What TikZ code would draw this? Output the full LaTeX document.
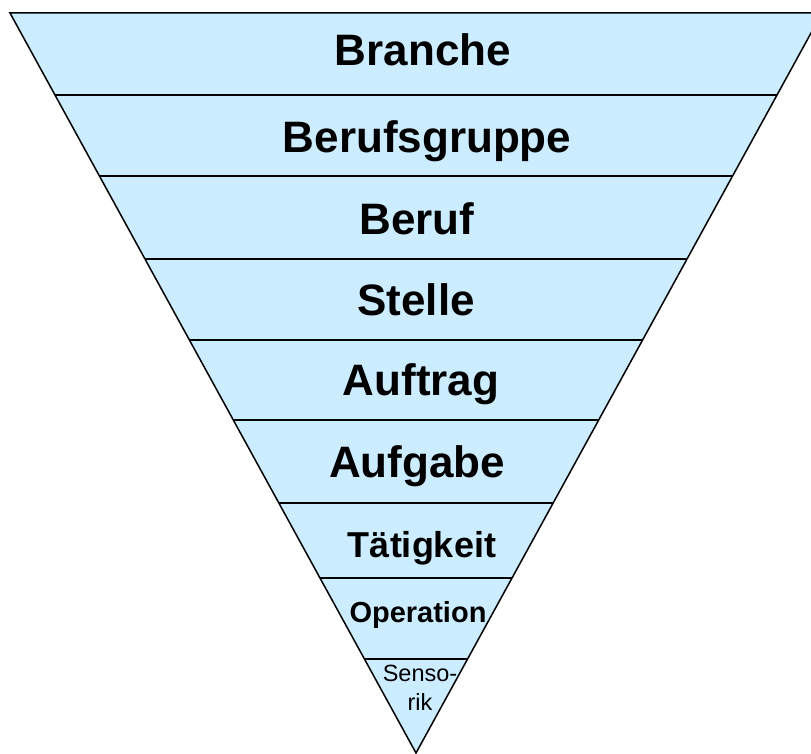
\documentclass[tikz,border=0pt]{standalone}
\usepackage{fontspec}
\setmainfont{Liberation Sans}
\usetikzlibrary{calc}
\definecolor{band}{HTML}{CCECFF}

\begin{document}
\begin{tikzpicture}[x=1pt,y=-1pt,
  big/.style={font=\bfseries\fontsize{44}{44}\selectfont,anchor=base,inner sep=0pt},
  mid/.style={font=\bfseries\fontsize{36}{36}\selectfont,anchor=base,inner sep=0pt},
  small/.style={font=\bfseries\fontsize{29}{29}\selectfont,anchor=base,inner sep=0pt},
  tiny/.style={font=\fontsize{23.5}{29}\selectfont,anchor=base,inner sep=0pt,align=center}]
\useasboundingbox (0,0) rectangle (811,754);
% Funnel
\coordinate (tl) at (10,13);
\coordinate (tr) at (822,13);
\coordinate (apex) at (416,753);
\fill[band] (tl) -- (tr) -- (apex) -- cycle;
% Level borders
\foreach \y in {95,176,259,340,420,503,578,659}
  \draw[line width=1.3pt] ($(tl)!{(\y-13)/740}!(apex)$) -- ($(tr)!{(\y-13)/740}!(apex)$);
\draw[line width=1.5pt,line join=miter] (tl) -- (tr) -- (apex) -- cycle;
% Levels
\node[big] (branche) at (423,66) {Branche};
\node[big] (gruppe) at (427,153) {Berufsgruppe};
\node[big] (beruf) at (417,235) {Beruf};
\node[big] (stelle) at (416,315) {Stelle};
\node[big] (auftrag) at (421,395) {Auftrag};
\node[big] (aufgabe) at (417,477) {Aufgabe};
\node[mid] (taetigkeit) at (422,557) {Tätigkeit};
\node[small] (operation) at (418,622) {Operation};
\node[tiny] (sensorik) at (420,710) {Senso-\\rik};
\end{tikzpicture}
\end{document}
